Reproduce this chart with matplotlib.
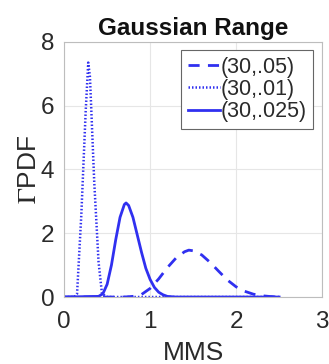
import matplotlib
matplotlib.use("Agg")
import matplotlib.pyplot as plt

# values
x_05 = [0.0, 0.7, 0.8, 0.9, 1.0, 1.1, 1.2, 1.3, 1.4, 1.45, 1.5, 1.6, 1.7, 1.8,
        1.9, 2.0, 2.1, 2.2, 2.3, 2.4, 2.5]
y_05 = [0.0, 0.0, 0.02, 0.08, 0.27, 0.57, 0.92, 1.22, 1.42, 1.47, 1.45, 1.32,
        1.08, 0.8, 0.53, 0.32, 0.18, 0.09, 0.04, 0.015, 0.0]

x_01 = [0.0, 0.12, 0.15, 0.2, 0.25, 0.28, 0.3, 0.35, 0.4, 0.44, 0.5, 2.5]
y_01 = [0.0, 0.0, 0.1, 2.6, 5.8, 7.35, 6.9, 3.6, 1.1, 0.1, 0.0, 0.0]

x_025 = [0.0, 0.4, 0.45, 0.5, 0.55, 0.6, 0.65, 0.7, 0.72, 0.75, 0.8, 0.85, 0.9,
         0.95, 1.0, 1.05, 1.1, 1.15, 1.2, 1.3, 2.5]
y_025 = [0.0, 0.02, 0.1, 0.4, 1.0, 1.8, 2.5, 2.9, 2.95, 2.87, 2.5, 1.95, 1.4,
         0.9, 0.55, 0.3, 0.15, 0.07, 0.02, 0.0, 0.0]

labels = ['(30,.05)', '(30,.01)', '(30,.025)']

plt.rcParams['font.family'] = ['Liberation Sans', 'DejaVu Sans']
plt.rcParams['mathtext.fontset'] = 'stix'
blue = '#3030f0'
txt = '#2a2a2a'

fig = plt.figure(figsize=(3.29, 3.64), dpi=100)
ax = fig.add_axes([0.195, 0.184, 0.784, 0.701])

ax.plot(x_05, y_05, color=blue, linestyle=(0, (4, 3)), linewidth=2, label=labels[0])
ax.plot(x_01, y_01, color=blue, linestyle=(0, (0.6, 0.8)), linewidth=1.8, label=labels[1])
ax.plot(x_025, y_025, color=blue, linestyle='-', linewidth=2, label=labels[2])

ax.set_xlim(0, 3)
ax.set_ylim(0, 8)
ax.set_xticks([0, 1, 2, 3])
ax.set_yticks([0, 2, 4, 6, 8])
ax.grid(True, color='#e6e6e6', linewidth=0.8)
ax.set_axisbelow(True)
for s in ax.spines.values():
    s.set_color('#bdbdbd')
    s.set_linewidth(0.8)
ax.tick_params(labelsize=17.5, colors='#bdbdbd', labelcolor=txt, length=0)
ax.tick_params(axis='x', pad=10)
ax.tick_params(axis='y', pad=7)

ax.set_title('Gaussian Range', fontsize=17.5, fontweight='bold', color='#111111', pad=5)
ax.set_xlabel('MMS', fontsize=19, color=txt, labelpad=6)
ax.set_ylabel(r'$\Gamma$PDF', fontsize=19, color=txt, labelpad=0)

leg = ax.legend(loc='upper right', fontsize=15.5, handlelength=1.5, handletextpad=0.05,
                borderpad=0.3, labelspacing=0.05, borderaxespad=0.4, fancybox=False,
                framealpha=1, edgecolor='#666666')
leg.get_frame().set_linewidth(0.8)
for t in leg.get_texts():
    t.set_color(txt)

fig.savefig('out.png', dpi=100)
